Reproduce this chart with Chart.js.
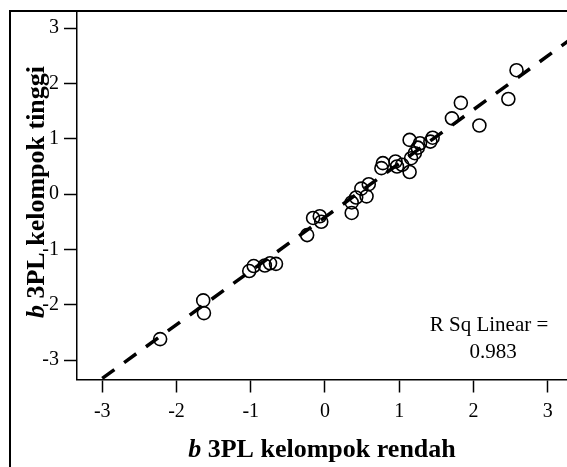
<!DOCTYPE html>
<html>
<head>
<meta charset="utf-8">
<script src="https://cdn.jsdelivr.net/npm/chart.js@4/dist/chart.umd.min.js"></script>
<style>
  html, body { margin: 0; padding: 0; background: #fff; }
  #wrap { position: relative; width: 567px; height: 467px; }
</style>
</head>
<body>
<div id="wrap"><canvas id="plot" width="567" height="467"></canvas></div>
<script>
// b parameters (3PL) estimated in the low group vs the high group
const bRendah = [-2.22, -1.64, -1.63, -1.02, -0.96, -0.81, -0.74, -0.66, -0.24, -0.16, -0.07, -0.05,
  0.36, 0.36, 0.42, 0.49, 0.56, 0.59, 0.76, 0.78, 0.95, 0.97, 1.04, 1.14, 1.16, 1.21, 1.25, 1.28,
  1.14, 1.42, 1.45, 1.71, 1.83, 2.08, 2.47, 2.58];
const bTinggi = [-2.62, -1.92, -2.15, -1.39, -1.30, -1.29, -1.25, -1.26, -0.74, -0.43, -0.40, -0.50,
  -0.15, -0.34, -0.06, 0.10, -0.04, 0.18, 0.47, 0.56, 0.59, 0.50, 0.53, 0.98, 0.65, 0.74, 0.84, 0.92,
  0.40, 0.95, 1.02, 1.37, 1.65, 1.24, 1.72, 2.24];

// fit line end points
const fitX = [-3.0, 3.3];
const fitY = [-3.33, 2.79];

const xTicks = [-3, -2, -1, 0, 1, 2, 3];
const yTicks = [-3, -2, -1, 0, 1, 2, 3];

const xTitle = ['b', ' 3PL kelompok rendah'];
const yTitle = ['b', ' 3PL kelompok tinggi'];
const rSqLines = ['R Sq Linear =', '0.983'];

const SERIF = '"Liberation Serif", "Times New Roman", serif';

function mixedText(ctx, parts, cx, cy, size) {
  const f1 = 'italic bold ' + size + 'px ' + SERIF;
  const f2 = 'bold ' + size + 'px ' + SERIF;
  ctx.font = f1;
  const w1 = ctx.measureText(parts[0]).width;
  ctx.font = f2;
  const w2 = ctx.measureText(parts[1]).width;
  let x = cx - (w1 + w2) / 2;
  ctx.textAlign = 'left';
  ctx.textBaseline = 'middle';
  ctx.font = f1;
  ctx.fillText(parts[0], x, cy);
  ctx.font = f2;
  ctx.fillText(parts[1], x + w1, cy);
}

const decor = {
  id: 'decor',
  afterDraw(chart) {
    const ctx = chart.ctx;
    ctx.save();
    ctx.fillStyle = '#000';
    ctx.strokeStyle = '#000';

    // outer frame
    ctx.lineWidth = 2;
    ctx.beginPath();
    ctx.moveTo(10, 480);
    ctx.lineTo(10, 11);
    ctx.lineTo(580, 11);
    ctx.stroke();

    // axis titles
    mixedText(ctx, xTitle, 322, 450, 26);
    ctx.save();
    ctx.translate(37, 192);
    ctx.rotate(-Math.PI / 2);
    mixedText(ctx, yTitle, 0, 0, 26);
    ctx.restore();

    // R squared note
    ctx.font = '21px ' + SERIF;
    ctx.textAlign = 'center';
    ctx.textBaseline = 'middle';
    ctx.fillText(rSqLines[0], 489, 325);
    ctx.fillText(rSqLines[1], 493, 352);
    ctx.restore();
  }
};

function axis(min, max, ticks, pos) {
  return {
    type: 'linear',
    position: pos,
    min: min,
    max: max,
    afterBuildTicks: s => { s.ticks = ticks.map(v => ({ value: v })); },
    afterFit: s => {
      if (pos === 'left') {
        s.width = 77;
        s.paddingTop = 0;
        s.paddingBottom = 0;
      } else {
        s.height = 467 - 379.5;
        s.paddingLeft = 0;
        s.paddingRight = 0;
      }
    },
    border: { display: true, color: '#000', width: 1.5 },
    grid: {
      drawOnChartArea: false,
      drawTicks: true,
      tickLength: 13,
      tickWidth: 1.5,
      tickColor: '#000',
      color: '#000'
    },
    ticks: {
      color: '#000',
      font: { family: SERIF, size: 20 },
      padding: pos === 'left' ? 5 : 7,
      callback: v => String(v)
    }
  };
}

new Chart(document.getElementById('plot'), {
  type: 'scatter',
  data: {
    datasets: [
      {
        label: 'b',
        data: bRendah.map((x, i) => ({ x: x, y: bTinggi[i] })),
        pointStyle: 'circle',
        pointRadius: 6.5,
        pointBorderWidth: 1.6,
        borderColor: '#000',
        backgroundColor: 'rgba(0,0,0,0)'
      },
      {
        label: 'fit',
        type: 'line',
        data: fitX.map((x, i) => ({ x: x, y: fitY[i] })),
        showLine: true,
        pointRadius: 0,
        borderColor: '#000',
        borderWidth: 3.5,
        borderDash: [15, 12],
        borderCapStyle: 'butt',
        fill: false
      }
    ]
  },
  options: {
    responsive: false,
    animation: false,
    devicePixelRatio: 1,
    layout: { autoPadding: false, padding: { top: 11, left: 0, right: 0, bottom: 0 } },
    plugins: { legend: { display: false }, tooltip: { enabled: false } },
    scales: {
      x: axis(-3.34, 3.26, xTicks, 'bottom'),
      y: axis(-3.35, 3.31, yTicks, 'left')
    }
  },
  plugins: [decor]
});
</script>
</body>
</html>
